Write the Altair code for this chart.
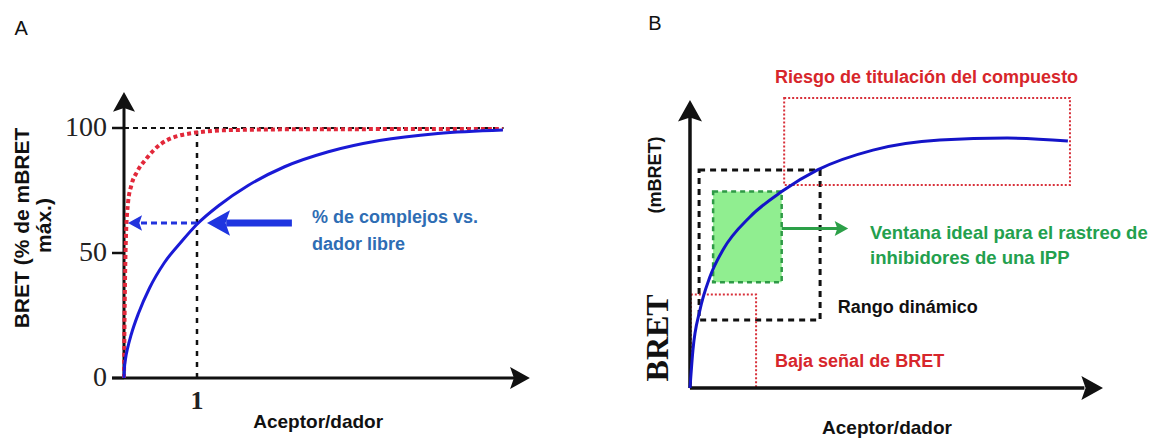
import altair as alt
import pandas as pd

SANS = "Liberation Sans"
SERIF = "Liberation Serif"

# ---------------- Panel A values ----------------
a_blue_x = [0, 0.005, 0.02, 0.05, 0.1, 0.2, 0.35, 0.55, 0.8, 1.0, 1.3, 1.7, 2.2, 2.8, 3.5, 4.3, 5.19]
a_blue_y = [0, 3.5, 7.5, 12, 17.5, 26, 36, 46, 55, 61.5, 69, 77, 84.5, 90.5, 95, 97.8, 99.2]
a_red_x = [0, 0.008, 0.025, 0.055, 0.1, 0.18, 0.3, 0.5, 0.9, 1.5, 2.5, 5.19]
a_red_y = [0, 25, 55, 70, 77, 82.5, 87.5, 93.5, 97.8, 99.2, 99.5, 99.6]
a_ytick_values = [0, 50, 100]
a_ytick_labels = ["0", "50", "100"]
a_xtick_values = [1]
a_xtick_labels = ["1"]
a_ref_x = 1.0      # acceptor/donor ratio marked
a_ref_y = 62       # % complexes read at ratio 1
a_max_y = 100
a_curve_end = 5.2
a_axis_x_end = 5.56
a_axis_y_end = 114.4

# ---------------- Panel B values ----------------
b_curve_x = [0, 0.07, 0.24, 0.48, 0.8, 1.45, 2.22, 3.1, 4.43, 6.05, 7.68, 9.15]
b_curve_y = [0, 13, 27, 38.5, 48, 59.4, 68.2, 75.8, 82.6, 86.1, 86.8, 85.8]
b_zone_names = ["Riesgo", "Rango", "Ventana", "Baja"]
b_zone_x1 = [2.28, 0.22, 0.56, 0.02]
b_zone_x2 = [9.2, 3.15, 2.22, 1.6]
b_zone_y1 = [70.5, 23.6, 36.7, 0]
b_zone_y2 = [100.7, 75.7, 68.2, 32.5]
b_axis_x_end = 10
b_axis_y_end = 100

# ---------------- helpers ----------------
A_XD = [-1.6986, 6.1644]
A_YD = [-24.4, 151.2]
B_XD = [-2.8087, 11.1138]
B_YD = [-17.708, 134.722]

ARROW = "M0,0L1.8,-1L1.45,0L1.8,1Z"  # points left, tip at origin


def scales(xd, yd):
    def X(f):
        return alt.X(f, type="quantitative", scale=alt.Scale(domain=xd, nice=False, zero=False), axis=None)

    def Y(f):
        return alt.Y(f, type="quantitative", scale=alt.Scale(domain=yd, nice=False, zero=False), axis=None)
    return X, Y


def curve(X, Y, xs, ys, color, width, dash=None):
    df = pd.DataFrame({"x": xs, "y": ys, "o": list(range(len(xs)))})
    kw = dict(color=color, strokeWidth=width, interpolate="monotone")
    if dash:
        kw["strokeDash"] = dash
    return alt.Chart(df).mark_line(**kw).encode(x=X("x"), y=Y("y"), order="o:Q")


def rules(X, Y, rows, color, width, dash=None):
    df = pd.DataFrame(rows, columns=["x1", "x2", "y1", "y2"])
    kw = dict(color=color, strokeWidth=width)
    if dash:
        kw["strokeDash"] = dash
    return alt.Chart(df).mark_rule(**kw).encode(
        x=X("x1"), x2=alt.X2("x2"), y=Y("y1"), y2=alt.Y2("y2"))


def heads(X, Y, rows, color, size):
    df = pd.DataFrame(rows, columns=["x", "y", "ang"])
    return alt.Chart(df).mark_point(shape=ARROW, filled=True, opacity=1, size=size,
                                    color=color, strokeWidth=0).encode(
        x=X("x"), y=Y("y"), angle=alt.Angle("ang:Q", scale=None))


def texts(X, Y, rows, **kw):
    df = pd.DataFrame(rows, columns=["x", "y", "t"])
    return alt.Chart(df).mark_text(**kw).encode(x=X("x"), y=Y("y"), text="t:N")


# ---------------- Panel A ----------------
XA, YA = scales(A_XD, A_YD)
tick_len = 0.164
a_layers = [
    rules(XA, YA, [[0, 0, 0, 109], [-tick_len, 5.36, 0, 0]], "#111111", 3),
    rules(XA, YA, [[-tick_len, 0, v, v] for v in a_ytick_values], "#111111", 2.5),
    rules(XA, YA, [[0, a_curve_end, a_max_y, a_max_y]], "#111111", 2, [5, 4]),
    rules(XA, YA, [[a_ref_x, a_ref_x, 0, a_max_y]], "#111111", 2.5, [5, 6]),
    heads(XA, YA, [[0, a_axis_y_end, 90], [a_axis_x_end, 0, 180]], "#111111", 484),
    curve(XA, YA, a_red_x, a_red_y, "#e2283a", 4, [4, 3]),
    curve(XA, YA, a_blue_x, a_blue_y, "#1a1ad6", 3),
    rules(XA, YA, [[a_ref_x, 0.2, a_ref_y, a_ref_y]], "#2233dd", 3, [6, 4]),
    heads(XA, YA, [[0.055, a_ref_y, 0]], "#2233dd", 243),
    rules(XA, YA, [[2.3, 1.4, a_ref_y, a_ref_y]], "#1f35e0", 7),
    heads(XA, YA, [[1.137, a_ref_y, 0]], "#1f35e0", 655),
    texts(XA, YA, [[-0.233, v, l] for v, l in zip(a_ytick_values, a_ytick_labels)],
          font=SERIF, fontSize=28, align="right", baseline="middle", color="#222222"),
    texts(XA, YA, [[v, -9.2, l] for v, l in zip(a_xtick_values, a_xtick_labels)],
          font=SERIF, fontSize=26, fontWeight="bold", align="center", baseline="middle", color="#222222"),
    texts(XA, YA, [[2.66, -17.6, "Aceptor/dador"]],
          font=SANS, fontSize=19, fontWeight="bold", align="center", baseline="middle", color="#111111"),
    texts(XA, YA, [[-1.384, 60, "BRET (% de mBRET"], [-1.082, 61, "máx.)"]],
          font=SANS, fontSize=21, fontWeight="bold", align="center", baseline="middle", angle=270, color="#111111"),
    texts(XA, YA, [[2.575, 64, "% de complejos vs."], [2.575, 53.2, "dador libre"]],
          font=SANS, fontSize=18, fontWeight="bold", align="left", baseline="middle", color="#2e6db4"),
    texts(XA, YA, [[-1.41, 139.6, "A"]],
          font=SANS, fontSize=20, align="center", baseline="middle", color="#111111"),
]
panelA = alt.layer(*a_layers).properties(width=574, height=439)

# ---------------- Panel B ----------------
XB, YB = scales(B_XD, B_YD)
zones = pd.DataFrame({"name": b_zone_names, "x1": b_zone_x1, "x2": b_zone_x2,
                      "y1": b_zone_y1, "y2": b_zone_y2})


def zone(name, **kw):
    return alt.Chart(zones[zones["name"] == name]).mark_rect(**kw).encode(
        x=XB("x1"), x2=alt.X2("x2"), y=YB("y1"), y2=alt.Y2("y2"))


b_layers = [
    zone("Ventana", color="#90ee90", strokeWidth=0),
    zone("Ventana", fillOpacity=0, stroke="#2e9a46", strokeWidth=2.5, strokeDash=[5, 4]),
    zone("Rango", fillOpacity=0, stroke="#111111", strokeWidth=3, strokeDash=[6, 5]),
    zone("Riesgo", fillOpacity=0, stroke="#d8303a", strokeWidth=2, strokeDash=[2, 2]),
    zone("Baja", fillOpacity=0, stroke="#d8303a", strokeWidth=2, strokeDash=[2, 2]),
    rules(XB, YB, [[0, 0, 0, 94.5], [0, 9.55, 0, 0]], "#111111", 3.5),
    heads(XB, YB, [[0, b_axis_y_end, 90], [b_axis_x_end, 0, 180]], "#111111", 576),
    curve(XB, YB, b_curve_x, b_curve_y, "#1414c8", 3),
    rules(XB, YB, [[2.22, 3.6, 55.4, 55.4]], "#2ca048", 3),
    heads(XB, YB, [[3.83, 55.4, 180]], "#2ca048", 225),
    texts(XB, YB, [[2.06, 107.6, "Riesgo de titulación del compuesto"], [2.06, 9.0, "Baja señal de BRET"]],
          font=SANS, fontSize=18, fontWeight="bold", align="left", baseline="middle", color="#d7262b"),
    texts(XB, YB, [[4.36, 53.8, "Ventana ideal para el rastreo de"], [4.36, 45.1, "inhibidores de una IPP"]],
          font=SANS, fontSize=18.5, fontWeight="bold", align="left", baseline="middle", color="#23a04e"),
    texts(XB, YB, [[3.58, 27.8, "Rango dinámico"]],
          font=SANS, fontSize=18, fontWeight="bold", align="left", baseline="middle", color="#111111"),
    texts(XB, YB, [[4.77, -13.9, "Aceptor/dador"]],
          font=SANS, fontSize=19, fontWeight="bold", align="center", baseline="middle", color="#111111"),
    texts(XB, YB, [[-0.775, 17.4, "BRET"]],
          font=SERIF, fontSize=32, fontWeight="bold", align="center", baseline="middle", angle=270, color="#111111"),
    texts(XB, YB, [[-0.82, 74, "(mBRET)"]],
          font=SANS, fontSize=18, fontWeight="bold", align="center", baseline="middle", angle=270, color="#111111"),
    texts(XB, YB, [[-0.85, 126.4, "B"]],
          font=SANS, fontSize=20, align="center", baseline="middle", color="#111111"),
]
panelB = alt.layer(*b_layers).properties(width=575, height=439)

chart = alt.hconcat(panelA, panelB, spacing=0).properties(
    padding=0, bounds="flush"
).configure_view(stroke=None)

chart.save("out.html", embed_options={"renderer": "svg", "actions": False})
